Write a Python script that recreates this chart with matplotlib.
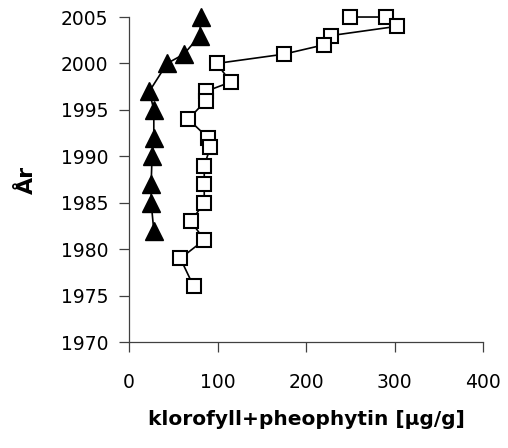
import numpy as np
import matplotlib.pyplot as plt

plt.rcParams['font.family'] = ['DejaVu Sans']

# trekanter (fylte)
ar_tri = [2005, 2003, 2001, 2000, 1997, 1995, 1992, 1990, 1987, 1985, 1982]
kl_tri = [81, 80, 62, 43, 23, 28, 28, 26, 25, 25, 28]

# firkanter (åpne)
ar_sq = [2005, 2005, 2004, 2003, 2002, 2001, 2000, 1998, 1997, 1996, 1994,
         1992, 1991, 1989, 1987, 1985, 1983, 1981, 1979, 1976]
kl_sq = [250, 290, 303, 228, 220, 175, 99, 115, 87, 87, 67,
         89, 92, 85, 85, 85, 70, 85, 58, 73]

xticks = [0, 100, 200, 300, 400]
yticks = [1970, 1975, 1980, 1985, 1990, 1995, 2000, 2005]

fig = plt.figure(figsize=(5.08, 4.48), dpi=100)
ax = fig.add_axes([0.254, 0.2366, 0.6968, 0.7254])

ax.plot(kl_sq, ar_sq, color='black', lw=1.2, marker='s', ms=9.5,
        mfc='white', mec='black', mew=1.5, clip_on=False, zorder=3)
ax.plot(kl_tri, ar_tri, color='black', lw=1.2, marker='^', ms=12.5,
        mfc='black', mec='black', clip_on=False, zorder=4)

ax.set_xlim(0, 400)
ax.set_ylim(1970, 2005)
ax.set_xticks(xticks)
ax.set_yticks(yticks)

ax.spines['top'].set_visible(False)
ax.spines['right'].set_visible(False)
for s in ['left', 'bottom']:
    ax.spines[s].set_color('#404040')
    ax.spines[s].set_linewidth(0.9)

ax.tick_params(axis='both', direction='out', length=7, width=0.9,
               color='#404040', labelsize=13.5)
ax.tick_params(axis='x', pad=15)
ax.tick_params(axis='y', pad=8)

ax.set_xlabel('klorofyll+pheophytin [µg/g]', fontsize=14.5, fontweight='bold',
              labelpad=13)
ax.set_ylabel('År', fontsize=16, fontweight='bold', labelpad=17)

fig.savefig('out.png', dpi=100)
